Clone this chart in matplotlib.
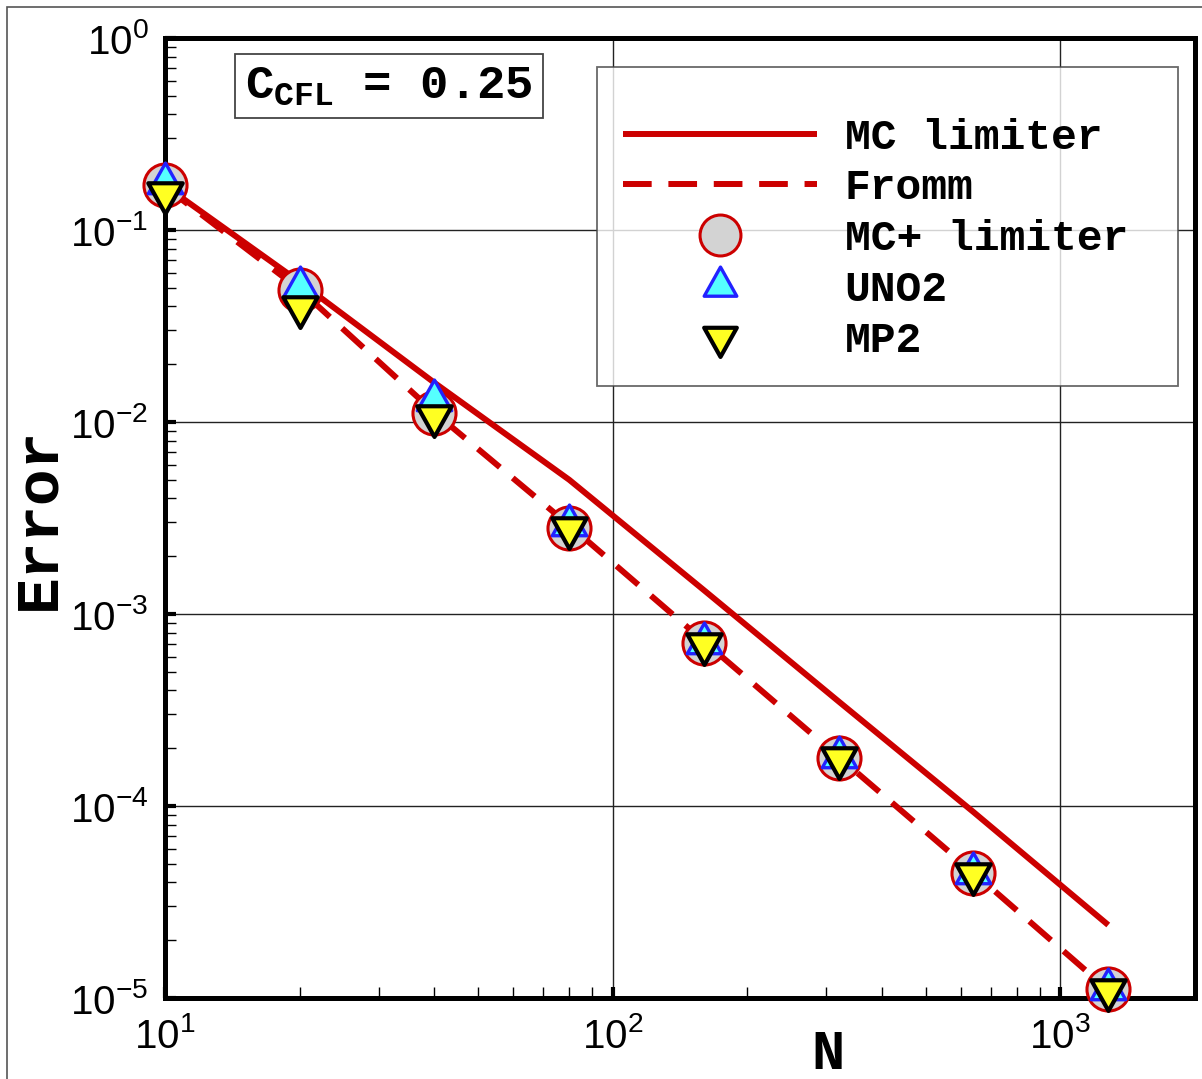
import matplotlib
matplotlib.use("Agg")
import matplotlib.pyplot as plt
from matplotlib.path import Path
from matplotlib.patches import Rectangle
from matplotlib.ticker import LogLocator, NullFormatter

# ---------------- data ----------------
N_values = [10, 20, 40, 80, 160, 320, 640, 1280]
mc_limiter = [0.170, 0.0536, 0.0160, 0.0050, 1.33e-3, 3.5e-4, 9.3e-5, 2.4e-5]
fromm = [0.168, 0.0490, 0.0112, 0.00290, 7.2e-4, 1.80e-4, 4.5e-5, 1.10e-5]
mc_plus = [0.171, 0.0487, 0.0111, 0.00281, 7.06e-4, 1.78e-4, 4.48e-5, 1.11e-5]
uno2 = [0.176, 0.0505, 0.0130, 0.00290, 7.1e-4, 1.79e-4, 4.5e-5, 1.12e-5]
mp2 = [0.156, 0.0397, 0.0108, 0.00280, 7.0e-4, 1.77e-4, 4.45e-5, 1.10e-5]

labels = ["MC limiter", "Fromm", "MC+ limiter", "UNO2", "MP2"]
cfl_text = "0.25"

# ---------------- style ----------------
plt.rcParams["mathtext.fontset"] = "custom"
plt.rcParams["mathtext.rm"] = "Liberation Sans"
plt.rcParams["mathtext.it"] = "Liberation Sans"
plt.rcParams["mathtext.tt"] = "Liberation Mono:bold"
plt.rcParams["font.family"] = ["Liberation Sans", "DejaVu Sans"]

RED = "#cc0000"
mono = {"family": "Liberation Mono", "weight": "bold"}

W, H = 1202, 1079
fig = plt.figure(figsize=(W / 100, H / 100), dpi=100)
ax = fig.add_axes([165 / W, 1 - 998 / H, (1195 - 165) / W, (998 - 38) / H])

# triangle markers centred on their centroid (as in the original)
tri_up = Path([(-0.84, -0.5), (0.84, -0.5), (0.0, 1.0), (-0.84, -0.5)], closed=True)
tri_dn = Path([(-0.84, 0.5), (0.84, 0.5), (0.0, -1.0), (-0.84, 0.5)], closed=True)

ms = 31
ax.plot(N_values, mc_limiter, color=RED, lw=4.3, solid_capstyle="butt",
        label=labels[0], zorder=3)
ax.plot(N_values, fromm, color=RED, lw=4.3, dashes=(4.8, 2.8), dash_capstyle="butt",
        label=labels[1], zorder=3)
ax.plot(N_values, mc_plus, ls="none", marker="o", ms=ms, mfc="#d3d3d3", mec=RED,
        mew=2.2, label=labels[2], zorder=5, clip_on=False)
ax.plot(N_values, uno2, ls="none", marker=tri_up, ms=ms * 0.95, mfc="#55ffff", mec="#2222ff",
        mew=2.4, label=labels[3], zorder=6, clip_on=False)
ax.plot(N_values, mp2, ls="none", marker=tri_dn, ms=ms * 0.95, mfc="#ffff22", mec="black",
        mew=3.0, label=labels[4], zorder=7, clip_on=False)

ax.set_xscale("log")
ax.set_yscale("log")
ax.set_xlim(10, 2000)
ax.set_ylim(1e-5, 1)

ax.xaxis.set_major_locator(LogLocator(base=10, numticks=10))
ax.yaxis.set_major_locator(LogLocator(base=10, numticks=10))
ax.xaxis.set_minor_locator(LogLocator(base=10, subs=range(2, 10), numticks=20))
ax.yaxis.set_minor_locator(LogLocator(base=10, subs=range(2, 10), numticks=20))
ax.xaxis.set_minor_formatter(NullFormatter())
ax.yaxis.set_minor_formatter(NullFormatter())

ax.grid(True, which="major", color="#222222", lw=1.0, zorder=1)
ax.set_axisbelow(True)

for s in ax.spines.values():
    s.set_linewidth(3.6)
    s.set_zorder(4)

ax.tick_params(axis="both", which="major", direction="in", length=8, width=3.0,
               labelsize=29, top=False, right=False)
ax.tick_params(axis="both", which="minor", direction="in", length=8, width=1.0,
               top=False, right=False)
ax.tick_params(axis="x", which="major", pad=14)
ax.tick_params(axis="y", which="major", pad=12)

ax.set_xlabel("N", fontdict=mono, fontsize=40, labelpad=-20)
ax.xaxis.label.set_x((828 - 165) / 1030)
ax.set_ylabel("Error", fontdict=mono, fontsize=44, labelpad=2)

# CFL text box
ax.text((245 - 165) / 1030, (998 - 64) / 960, r"$\mathtt{C}_{\mathtt{CFL}}$ = " + cfl_text,
        transform=ax.transAxes, ha="left", va="top", fontsize=34, **mono,
        bbox=dict(boxstyle="square,pad=0.22", fc="white", ec="#444444", lw=1.3),
        zorder=8)

leg_top = 1 - 67 / H
leg = ax.legend(loc="upper left",
                bbox_to_anchor=(597 / W, leg_top - 0.1, (1178 - 597) / W, 0.1),
                bbox_transform=fig.transFigure, mode="expand",
                prop={"family": "Liberation Mono", "weight": "bold", "size": 31},
                frameon=True, fancybox=False, borderaxespad=0,
                handlelength=4.5, handletextpad=0.65, labelspacing=0.25,
                borderpad=0.6, title=" ", title_fontsize=10, markerscale=0.95)
leg.get_frame().set_edgecolor("#444444")
leg.get_frame().set_linewidth(1.3)
leg.set_zorder(10)

# outer frame of the picture
fig.patches.append(Rectangle((7 / W, -0.05), 1.2, 1 - 7 / H + 0.05,
                             transform=fig.transFigure, fill=False,
                             ec="#555555", lw=1.2))

fig.savefig("out.png", dpi=100)
